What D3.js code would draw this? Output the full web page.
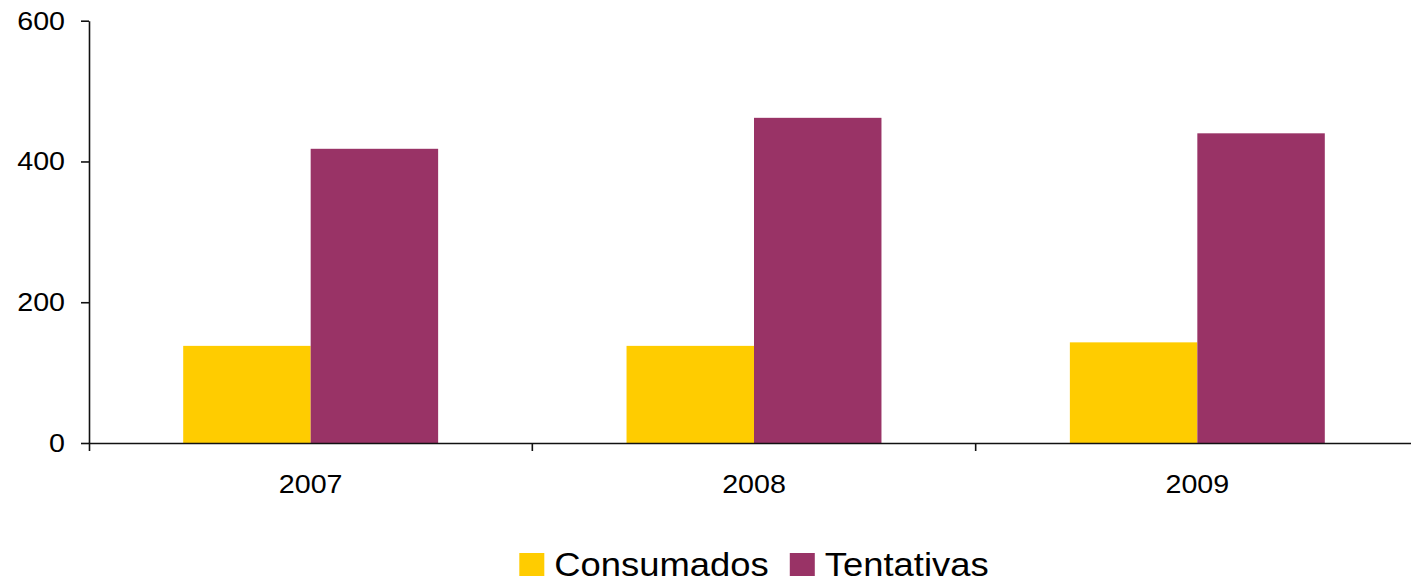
<!DOCTYPE html>
<html>
<head>
<meta charset="utf-8">
<script src="https://cdn.jsdelivr.net/npm/d3@7"></script>
<style>
  body { margin: 0; background: #fff; }
  text { font-family: "Liberation Sans", Arial, sans-serif; fill: #000; }
  .stretch { transform-box: fill-box; transform-origin: center; transform: scaleX(1.08); }
  .y.axis .tick text { transform-box: fill-box; transform-origin: right center; transform: scaleX(1.08); }
</style>
</head>
<body>
<div class="chart"></div>
<script>
// Data
const years = ["2007", "2008", "2009"];
const series = ["Consumados", "Tentativas"];
const consumados = [138, 138, 143];
const tentativas = [418, 462, 440];
const yTicks = [0, 200, 400, 600];
const colors = ["#FFCC00", "#993366"];

const W = 1411, H = 587;
const margin = { top: 20.7, left: 89, bottom: 144 }; // bottom = H - 443
const plotRight = 1419; // last band runs a little past the picture edge
const y0px = H - margin.bottom;

const svg = d3.select(".chart").append("svg")
    .attr("width", W)
    .attr("height", H);

const x0 = d3.scaleBand().domain(years).range([margin.left, plotRight]).padding(0);
const x1 = d3.scaleBand().domain(series).range([0, x0.bandwidth()]).paddingInner(0).paddingOuter(0.739);
const y = d3.scaleLinear().domain([0, 600]).range([y0px, margin.top]);
const color = d3.scaleOrdinal().domain(series).range(colors);

const rows = years.map((yr, i) => ({ year: yr, values: [
    { name: series[0], value: consumados[i] },
    { name: series[1], value: tentativas[i] }
]}));

// bars
const group = svg.selectAll(".year")
    .data(rows)
    .enter().append("g")
    .attr("class", "year")
    .attr("transform", d => "translate(" + x0(d.year) + ",0)");

group.selectAll("rect")
    .data(d => d.values)
    .enter().append("rect")
    .attr("x", d => x1(d.name))
    .attr("y", d => y(d.value))
    .attr("width", x1.bandwidth())
    .attr("height", d => y(0) - y(d.value))
    .style("fill", d => color(d.name));

// y axis
const yAxis = svg.append("g")
    .attr("class", "y axis")
    .attr("transform", "translate(" + margin.left + ",0)")
    .call(d3.axisLeft(y).tickValues(yTicks).tickSize(8).tickSizeOuter(0).tickPadding(16));
yAxis.selectAll("text").style("font-size", "26.5px");

// x axis (labels at band centres, ticks at band edges)
const xAxis = svg.append("g")
    .attr("class", "x axis")
    .attr("transform", "translate(0," + y0px + ")")
    .call(d3.axisBottom(x0).tickSize(0).tickSizeOuter(8).tickPadding(30.8));
xAxis.selectAll("text").style("font-size", "26.5px").attr("class", "stretch");

xAxis.selectAll(".edge")
    .data(years.slice(1))
    .enter().append("line")
    .attr("class", "edge")
    .attr("x1", d => x0(d)).attr("x2", d => x0(d))
    .attr("y1", 0).attr("y2", 8);

svg.selectAll(".axis path, .axis line").attr("stroke", "#111").attr("stroke-width", 1.6);

// legend
const legend = svg.append("g").attr("class", "legend");
const stretch = 1.12, sq = 25, gapText = 10, gapItem = 21, baseline = 576;
let items = [];
series.forEach((s, i) => {
    const t = legend.append("text")
        .attr("y", baseline)
        .style("font-size", "32.5px")
        .text(s);
    items.push({ t: t, w: t.node().getComputedTextLength() * stretch, name: s });
});
const total = d3.sum(items, d => sq + gapText + d.w) + gapItem * (items.length - 1);
let cx = (margin.left + plotRight) / 2 - total / 2;
items.forEach(d => {
    legend.append("rect")
        .attr("x", cx).attr("y", baseline - 23)
        .attr("width", sq).attr("height", 23)
        .style("fill", color(d.name));
    const tx = cx + sq + gapText;
    d.t.attr("x", tx)
       .attr("transform", "translate(" + tx + ",0) scale(" + stretch + ",1) translate(" + (-tx) + ",0)");
    cx = tx + d.w + gapItem;
});
</script>
</body>
</html>
